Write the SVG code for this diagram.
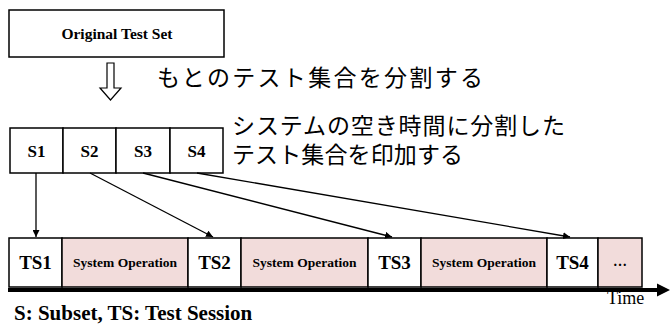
<svg xmlns="http://www.w3.org/2000/svg" width="670" height="324" viewBox="0 0 670 324">
<defs>
<style>
.box{fill:#ffffff;stroke:#000;stroke-width:1.5}
.op{fill:#f2dcdb;stroke:#000;stroke-width:1.5}
.tb{font-family:"Liberation Serif","Times New Roman",serif;font-weight:bold;fill:#000;text-anchor:middle}
.jp{font-family:"Noto Sans CJK JP","Noto Sans",sans-serif;font-size:23px;fill:#000}
.con{stroke:#000;stroke-width:1.3;fill:none;marker-end:url(#ah)}
</style>
<marker id="ah" viewBox="0 0 10 10" refX="10" refY="5" markerWidth="7" markerHeight="7" markerUnits="userSpaceOnUse" orient="auto">
<path d="M0,0 L10,5 L0,10 z" fill="#000"/>
</marker>
</defs>
<rect width="670" height="324" fill="#fff"/>

<g id="original">
<rect class="box" x="9" y="10" width="215" height="47"/>
<text class="tb" x="117" y="39" font-size="15.5">Original Test Set</text>
</g>

<g id="split-arrow">
<polygon points="107,63 114,63 114,88 121,88 110.5,100 100,88 107,88" fill="#fff" stroke="#000" stroke-width="1.2"/>
</g>

<g id="label-split">
<text class="jp" x="157" y="86" textLength="326" lengthAdjust="spacing">もとのテスト集合を分割する</text>
</g>

<g id="label-apply">
<text class="jp" x="232" y="134" textLength="333" lengthAdjust="spacing">システムの空き時間に分割した</text>
<text class="jp" x="232" y="163" textLength="231" lengthAdjust="spacing">テスト集合を印加する</text>
</g>

<g id="S1"><rect class="box" x="10" y="128" width="53" height="45"/><text class="tb" x="36.5" y="157" font-size="17">S1</text></g>
<g id="S2"><rect class="box" x="63" y="128" width="53" height="45"/><text class="tb" x="89.5" y="157" font-size="17">S2</text></g>
<g id="S3"><rect class="box" x="116" y="128" width="54" height="45"/><text class="tb" x="143" y="157" font-size="17">S3</text></g>
<g id="S4"><rect class="box" x="170" y="128" width="53" height="45"/><text class="tb" x="196.5" y="157" font-size="17">S4</text></g>

<g id="TS1"><rect class="box" x="9" y="238" width="53" height="49"/><text class="tb" x="35.5" y="269" font-size="19">TS1</text></g>
<g id="SO1"><rect class="op" x="62" y="238" width="126" height="49"/><text class="tb" x="125" y="267" font-size="13.5">System Operation</text></g>
<g id="TS2"><rect class="box" x="188" y="238" width="53" height="49"/><text class="tb" x="214.5" y="269" font-size="19">TS2</text></g>
<g id="SO2"><rect class="op" x="241" y="238" width="127" height="49"/><text class="tb" x="304.5" y="267" font-size="13.5">System Operation</text></g>
<g id="TS3"><rect class="box" x="368" y="238" width="53" height="49"/><text class="tb" x="394.5" y="269" font-size="19">TS3</text></g>
<g id="SO3"><rect class="op" x="421" y="238" width="126" height="49"/><text class="tb" x="484" y="267" font-size="13.5">System Operation</text></g>
<g id="TS4"><rect class="box" x="547" y="238" width="51" height="49"/><text class="tb" x="572.5" y="269" font-size="19">TS4</text></g>
<g id="more"><rect class="op" x="598" y="238" width="44" height="49"/><text class="tb" x="620" y="266" font-size="14">…</text></g>

<g id="connectors">
<line class="con" x1="36" y1="173" x2="36" y2="237"/>
<line class="con" x1="90" y1="173" x2="213" y2="237"/>
<line class="con" x1="143" y1="173" x2="392" y2="237"/>
<line class="con" x1="197" y1="173" x2="570" y2="237"/>
</g>

<g id="time-axis">
<line x1="8" y1="290" x2="660" y2="290" stroke="#000" stroke-width="4"/>
<polygon points="657,283.5 670,290 657,296.5" fill="#000"/>
<text x="607" y="304" font-family="'Liberation Serif','Times New Roman',serif" font-size="18" fill="#000">Time</text>
</g>

<g id="legend">
<text x="14" y="320" font-family="'Liberation Serif','Times New Roman',serif" font-weight="bold" font-size="21" fill="#000">S: Subset, TS: Test Session</text>
</g>
</svg>
